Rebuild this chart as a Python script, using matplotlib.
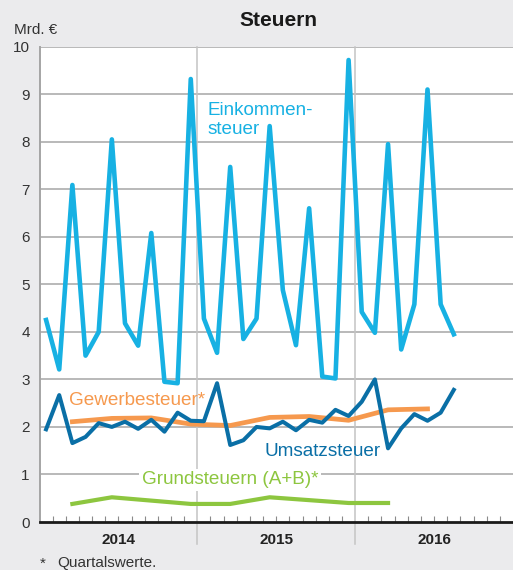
import numpy as np
import matplotlib
matplotlib.use("Agg")
import matplotlib.pyplot as plt
from matplotlib.lines import Line2D

plt.rcParams["font.family"] = ["Liberation Sans", "DejaVu Sans"]

# monthly values, Jan 2014 onwards (Mrd. €)
einkommen = [4.25, 3.21, 7.09, 3.50, 4.00, 8.05, 4.18, 3.71, 6.08, 2.95, 2.92, 9.32,
             4.28, 3.56, 7.47, 3.85, 4.28, 8.33, 4.88, 3.72, 6.60, 3.06, 3.02, 9.72,
             4.42, 3.98, 7.95, 3.63, 4.58, 9.10, 4.58, 3.95]
umsatz = [1.95, 2.67, 1.66, 1.79, 2.08, 2.00, 2.11, 1.96, 2.15, 1.90, 2.30, 2.13,
          2.12, 2.92, 1.62, 1.72, 2.00, 1.97, 2.11, 1.93, 2.15, 2.09, 2.36, 2.23,
          2.53, 3.00, 1.55, 1.97, 2.27, 2.13, 2.30, 2.78]
# quarterly values, Q1 2014 onwards
gewerbe = [2.11, 2.18, 2.19, 2.06, 2.03, 2.20, 2.22, 2.14, 2.36, 2.38]
grund = [0.38, 0.52, 0.45, 0.38, 0.38, 0.52, 0.46, 0.40, 0.40]
years = ["2014", "2015", "2016"]

BG = "#ebebed"
C_EST = "#17b1e3"
C_UST = "#0a6fa6"
C_GEW = "#f6994e"
C_GRU = "#8dc63f"
GRID = "#a5a5a5"

W, H = 513, 570
fig = plt.figure(figsize=(W / 100, H / 100), dpi=100, facecolor=BG)
x0, x1, y0, y1 = 39.5, 513, 522, 46.7
ax = fig.add_axes([x0 / W, 1 - y0 / H, (x1 - x0) / W, (y0 - y1) / H])
ax.set_facecolor("white")


def px(x, y):
    return x / W, 1 - y / H


m_est = np.arange(len(einkommen)) + 0.5
m_ust = np.arange(len(umsatz)) + 0.5
q_gew = np.arange(len(gewerbe)) * 3 + 2.5
q_gru = np.arange(len(grund)) * 3 + 2.5

ax.set_xlim(0, 36)
ax.set_ylim(0, 10)

# gridlines
for v in range(1, 11):
    ax.axhline(v, color=GRID, lw=1.1, zorder=1)
for yr in (12, 24):
    ax.add_line(Line2D([yr, yr], [-0.046, 1], transform=ax.get_xaxis_transform(),
                       color="#c4c4c4", lw=1.1, clip_on=False, zorder=1))

ax.plot(m_est, einkommen, color=C_EST, lw=3.3, zorder=3)
ax.plot(q_gru, grund, color=C_GRU, lw=3.0, zorder=3)
ax.plot(q_gew, gewerbe, color=C_GEW, lw=3.4, zorder=4)
ax.plot(m_ust, umsatz, color=C_UST, lw=2.9, zorder=5)

# series labels
lab = dict(fontsize=13.6, va="baseline", zorder=6)
ax.text(12.75, 8.56, "Einkommen-", color=C_EST, **lab)
ax.text(12.75, 8.17, "steuer", color=C_EST, **lab)
ax.text(2.24, 2.46, "Gewerbesteuer*", color=C_GEW, **lab)
ax.text(17.08, 1.39, "Umsatzsteuer", color=C_UST, **lab)
ax.text(7.77, 0.79, "Grundsteuern (A+B)*", color=C_GRU,
        bbox=dict(facecolor="white", edgecolor="none", pad=2), **lab)

# axes styling
for side in ("top", "right"):
    ax.spines[side].set_visible(False)
ax.spines["left"].set_color(GRID)
ax.spines["left"].set_linewidth(1.4)
ax.spines["bottom"].set_color("#1a1a1a")
ax.spines["bottom"].set_linewidth(2.0)
ax.spines["bottom"].set_zorder(7)

ax.set_yticks(range(0, 11))
ax.set_yticklabels([str(v) for v in range(0, 11)], fontsize=11, color="#333333")
ax.tick_params(axis="y", length=0, pad=7)

ax.set_xticks([m for m in range(1, 36) if m not in (12, 24)])
ax.set_xticklabels([])
ax.tick_params(axis="x", direction="in", length=4.5, width=0.8, color="#8a8a8a")

for i, yr in enumerate(years):
    ax.text(6 + 12 * i, -0.37, yr, ha="center", va="center", fontsize=11,
            fontweight="bold", color="#222222", transform=ax.transData, clip_on=False)

fig.text(*px(278, 20), "Steuern", ha="center", va="center", fontsize=15,
         fontweight="bold", color="#1a1a1a")
fig.text(*px(14, 30), "Mrd. €", ha="left", va="center", fontsize=11, color="#333333")
fig.text(*px(40, 564), "*", ha="left", va="center", fontsize=11, color="#333333")
fig.text(*px(57, 563), "Quartalswerte.", ha="left", va="center", fontsize=11, color="#333333")

fig.savefig("out.png", dpi=100, facecolor=BG)
